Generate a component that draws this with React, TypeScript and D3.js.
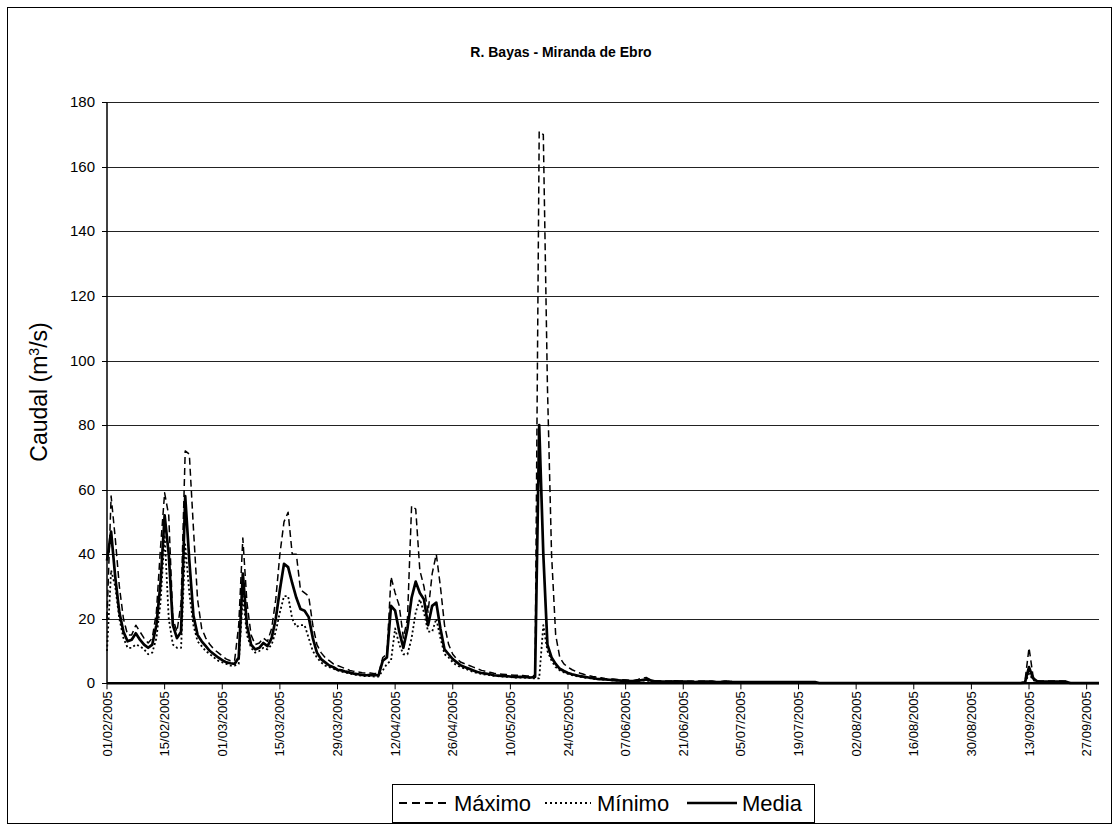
import React from 'react';
import * as d3 from 'd3';

// Daily discharge (m³/s) at R. Bayas - Miranda de Ebro, 01/02/2005 – 30/09/2005.
// Each row holds two weeks of values.
const maximo: number[] = [
  20, 58, 45, 30, 20, 15, 15, 18, 16, 14, 12.5, 14, 22, 42,
  59, 52, 20, 16, 25, 72, 71, 48, 26, 17, 14, 12, 10.5, 9.5,
  8.5, 7.5, 7, 7, 18, 45, 25, 15, 12, 12.5, 14, 13, 17, 26,
  40, 50, 53, 40, 40, 29, 28, 27, 18, 12, 9.5, 8, 7, 6,
  5.5, 5, 4.5, 4, 3.7, 3.5, 3.3, 3.2, 3.2, 3, 3, 8, 9, 33,
  28, 24, 14, 20, 55, 54, 35, 30, 22, 34, 40, 30, 18, 12,
  9, 7.5, 6.5, 6, 5.5, 5, 4.5, 4, 3.7, 3.4, 3.1, 2.9, 2.8, 2.7,
  2.6, 2.5, 2.5, 2.4, 2.3, 2.2, 2.5, 171, 170, 92, 40, 15, 8, 6,
  5, 4.2, 3.6, 3.1, 2.7, 2.4, 2.1, 1.9, 1.7, 1.5, 1.4, 1.3, 1.2, 1.1,
  1, 0.9, 0.9, 1.2, 1.6, 1.8, 1.1, 0.8, 0.8, 0.7, 0.7, 0.7, 0.8, 0.7,
  0.7, 0.6, 0.6, 0.6, 0.6, 0.6, 0.6, 0.6, 0.5, 0.5, 0.6, 0.6, 0.5, 0.5,
  0.5, 0.5, 0.5, 0.5, 0.5, 0.5, 0.5, 0.5, 0.5, 0.5, 0.5, 0.5, 0.5, 0.5,
  0.5, 0.5, 0.5, 0.5, 0.5, 0.2, 0.2, 0.2, 0.2, 0.2, 0.2, 0.2, 0.2, 0.2,
  0.2, 0.2, 0.2, 0.2, 0.2, 0.2, 0.2, 0.2, 0.2, 0.2, 0.2, 0.2, 0.2, 0.2,
  0.2, 0.2, 0.2, 0.2, 0.2, 0.2, 0.2, 0.2, 0.2, 0.2, 0.2, 0.2, 0.2, 0.2,
  0.2, 0.2, 0.2, 0.2, 0.2, 0.2, 0.2, 0.2, 0.2, 0.2, 0.2, 0.2, 0.2, 0.5,
  11, 2, 0.8, 0.7, 0.7, 0.7, 0.7, 0.7, 0.7, 0.6, 0.2, 0.2, 0.2, 0.2,
  0.2, 0.2, 0.2, 0.2,
];

const minimo: number[] = [
  10, 35, 30, 20, 14, 11, 11, 12, 11.5, 10.5, 9, 9.5, 14, 25,
  46, 20, 12, 11, 11, 43, 28, 18, 13, 11.5, 10, 9, 8, 7,
  6.5, 6, 5.5, 5.5, 6, 27, 15, 11, 9.5, 10, 11, 10.5, 12, 16,
  22, 27, 27, 20, 17.5, 18, 18, 14, 10, 8, 6.5, 5.5, 5, 4.5,
  4, 3.6, 3.3, 3, 2.7, 2.5, 2.3, 2.2, 2.2, 2.1, 2.1, 4, 6, 7,
  17, 12, 9, 9, 14, 22, 26, 22, 16, 16, 20, 14, 9, 8,
  6.5, 5.5, 5, 4.5, 4, 3.5, 3.2, 2.9, 2.7, 2.5, 2.3, 2.2, 2.1, 2,
  1.9, 1.8, 1.8, 1.8, 1.7, 1.6, 1.5, 1.5, 18, 10, 7, 5, 4, 3.4,
  2.9, 2.5, 2.2, 2, 1.8, 1.6, 1.4, 1.3, 1.2, 1.1, 1, 0.9, 0.8, 0.7,
  0.7, 0.6, 0.6, 0.7, 0.8, 0.9, 0.7, 0.5, 0.5, 0.4, 0.4, 0.4, 0.5, 0.4,
  0.4, 0.4, 0.4, 0.3, 0.4, 0.4, 0.4, 0.4, 0.3, 0.3, 0.4, 0.4, 0.3, 0.3,
  0.3, 0.3, 0.3, 0.3, 0.3, 0.3, 0.3, 0.3, 0.3, 0.3, 0.3, 0.3, 0.3, 0.3,
  0.3, 0.3, 0.3, 0.3, 0.3, 0.05, 0.05, 0.05, 0.05, 0.05, 0.05, 0.05, 0.05, 0.05,
  0.05, 0.05, 0.05, 0.05, 0.05, 0.05, 0.05, 0.05, 0.05, 0.05, 0.05, 0.05, 0.05, 0.05,
  0.05, 0.05, 0.05, 0.05, 0.05, 0.05, 0.05, 0.05, 0.05, 0.05, 0.05, 0.05, 0.05, 0.05,
  0.05, 0.05, 0.05, 0.05, 0.05, 0.05, 0.05, 0.05, 0.05, 0.05, 0.05, 0.05, 0.05, 0.1,
  3, 1, 0.4, 0.3, 0.3, 0.3, 0.3, 0.3, 0.3, 0.3, 0.05, 0.05, 0.05, 0.05,
  0.05, 0.05, 0.05, 0.05,
];

const media: number[] = [
  38, 47, 33, 22, 16, 13, 13.5, 15.5, 13.5, 12, 11, 12, 18, 31,
  52, 40, 18, 14, 16, 58, 38, 21, 15, 13, 11.5, 10, 9, 8,
  7.2, 6.5, 6.2, 6, 8, 34, 18, 12, 10.5, 11, 12.5, 11.5, 14, 20,
  29, 37, 36, 31, 26.5, 23, 22.5, 20.5, 14, 9.5, 7.5, 6.5, 5.5, 5,
  4.2, 4, 3.6, 3.3, 3, 2.8, 2.6, 2.5, 2.6, 2.5, 2.5, 7, 8, 24,
  22.5, 16, 11, 17, 26.5, 31.5, 28, 26, 18, 24, 25, 17, 10.5, 9,
  7.5, 6.5, 5.5, 5, 4.5, 4, 3.5, 3.2, 3, 2.8, 2.5, 2.4, 2.3, 2.2,
  2.1, 2, 2, 2, 1.9, 1.8, 2, 80, 40, 12, 8, 6, 4.5, 3.8,
  3.2, 2.8, 2.5, 2.2, 2, 1.8, 1.6, 1.4, 1.3, 1.2, 1.1, 1, 0.9, 0.8,
  0.8, 0.7, 0.7, 0.8, 1, 1.2, 0.9, 0.6, 0.6, 0.5, 0.5, 0.5, 0.6, 0.5,
  0.5, 0.5, 0.5, 0.4, 0.5, 0.5, 0.5, 0.5, 0.4, 0.4, 0.5, 0.5, 0.4, 0.4,
  0.4, 0.4, 0.4, 0.4, 0.4, 0.4, 0.4, 0.4, 0.4, 0.4, 0.4, 0.4, 0.4, 0.4,
  0.4, 0.4, 0.4, 0.4, 0.4, 0.1, 0.1, 0.1, 0.1, 0.1, 0.1, 0.1, 0.1, 0.1,
  0.1, 0.1, 0.1, 0.1, 0.1, 0.1, 0.1, 0.1, 0.1, 0.1, 0.1, 0.1, 0.1, 0.1,
  0.1, 0.1, 0.1, 0.1, 0.1, 0.1, 0.1, 0.1, 0.1, 0.1, 0.1, 0.1, 0.1, 0.1,
  0.1, 0.1, 0.1, 0.1, 0.1, 0.1, 0.1, 0.1, 0.1, 0.1, 0.1, 0.1, 0.1, 0.2,
  5, 1.5, 0.6, 0.5, 0.5, 0.5, 0.5, 0.5, 0.5, 0.5, 0.1, 0.1, 0.1, 0.1,
  0.1, 0.1, 0.1, 0.1,
];

// Category labels shown every 14 days
const tickLabels: string[] = [
  '01/02/2005', '15/02/2005', '01/03/2005', '15/03/2005', '29/03/2005',
  '12/04/2005', '26/04/2005', '10/05/2005', '24/05/2005', '07/06/2005',
  '21/06/2005', '05/07/2005', '19/07/2005', '02/08/2005', '16/08/2005',
  '30/08/2005', '13/09/2005', '27/09/2005',
];
const tickStep = 14;
const yTicks: number[] = [0, 20, 40, 60, 80, 100, 120, 140, 160, 180];

const FONT = '"Liberation Sans", Arial, Helvetica, sans-serif';

export default function App() {
  const W = 1119;
  const H = 830;
  const left = 107;
  const right = 1099;
  const top = 102.3;
  const bottom = 683.3;

  const n = media.length;
  const x = d3.scaleLinear().domain([0, n - 1]).range([left, right]);
  const y = d3.scaleLinear().domain([0, 180]).range([bottom, top]);

  const line = d3
    .line<number>()
    .x((_, i) => x(i))
    .y((d) => y(d));

  const series = [
    { name: 'Máximo', values: maximo, width: 1.5, dash: '7,4' },
    { name: 'Mínimo', values: minimo, width: 1.8, dash: '2,2.5' },
    { name: 'Media', values: media, width: 2.7, dash: undefined as string | undefined },
  ];

  const legendX = 392;
  const legendY = 784;

  return (
    <div style={{ position: 'absolute', left: 0, top: 0 }}>
      <svg width={W} height={H} style={{ display: 'block', background: '#fff' }} fontFamily={FONT}>
        {/* outer chart frame */}
        <rect x={7.5} y={7.5} width={1104} height={816} fill="#fff" stroke="#000" strokeWidth={1} />

        <text x={561} y={57} textAnchor="middle" fontSize={14} fontWeight="bold">
          R. Bayas - Miranda de Ebro
        </text>

        {/* horizontal gridlines */}
        {yTicks
          .filter((t) => t > 0)
          .map((t) => (
            <line key={t} x1={left} x2={right} y1={Math.round(y(t)) + 0.5} y2={Math.round(y(t)) + 0.5} stroke="#222" strokeWidth={1} />
          ))}

        {/* y axis */}
        <line x1={left} x2={left} y1={top} y2={bottom} stroke="#000" strokeWidth={1.5} />
        {yTicks.map((t) => (
          <g key={t}>
            <line x1={left - 5} x2={left} y1={Math.round(y(t)) + 0.5} y2={Math.round(y(t)) + 0.5} stroke="#000" strokeWidth={1} />
            <text x={95} y={y(t) + 5} textAnchor="end" fontSize={15}>
              {t}
            </text>
          </g>
        ))}

        <text transform={`translate(47, 392) rotate(-90)`} textAnchor="middle" fontSize={23}>
          Caudal (m<tspan baselineShift="super" fontSize={14}>3</tspan>/s)
        </text>

        {/* data series */}
        {series.map((s) => (
          <path
            key={s.name}
            d={line(s.values) || ''}
            fill="none"
            stroke="#000"
            strokeWidth={s.width}
            strokeDasharray={s.dash}
            strokeLinejoin="round"
          />
        ))}

        {/* x axis */}
        <line x1={left} x2={right} y1={bottom} y2={bottom} stroke="#000" strokeWidth={2.5} />
        {tickLabels.map((lab, k) => {
          const xi = x(k * tickStep);
          return (
            <g key={lab}>
              <line x1={xi} x2={xi} y1={bottom} y2={bottom + 6} stroke="#000" strokeWidth={1} />
              <text transform={`translate(${xi + 4.5}, ${bottom + 8}) rotate(-90)`} textAnchor="end" fontSize={13}>
                {lab}
              </text>
            </g>
          );
        })}

        {/* legend */}
        <rect x={legendX + 0.5} y={legendY + 0.5} width={422} height={38} fill="#fff" stroke="#000" strokeWidth={1} />
        <line x1={399} x2={448} y1={803} y2={803} stroke="#000" strokeWidth={2} strokeDasharray="8,5" />
        <text x={454} y={811} fontSize={22}>Máximo</text>
        <line x1={545} x2={591} y1={803} y2={803} stroke="#000" strokeWidth={2} strokeDasharray="2,3" />
        <text x={597} y={811} fontSize={22}>Mínimo</text>
        <line x1={687} x2={737} y1={803} y2={803} stroke="#000" strokeWidth={2.5} />
        <text x={742} y={811} fontSize={22}>Media</text>
      </svg>
    </div>
  );
}
